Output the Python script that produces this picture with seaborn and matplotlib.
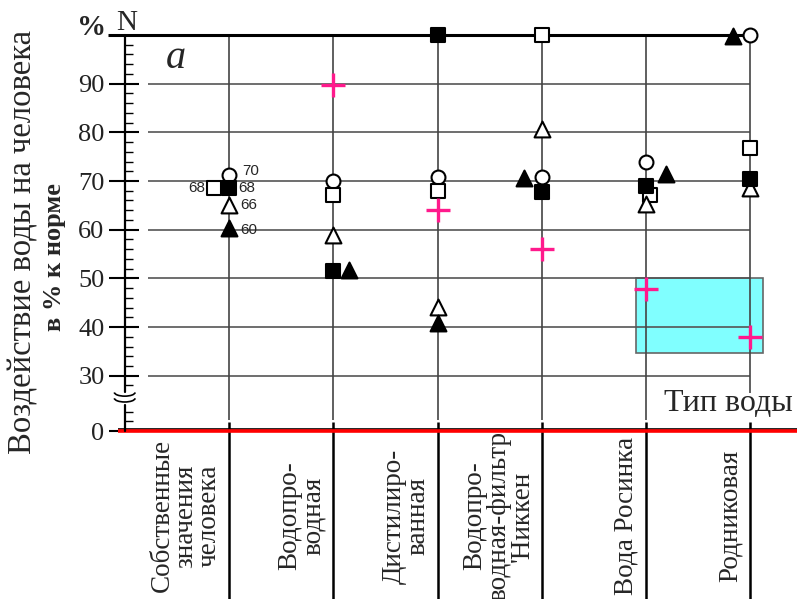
import matplotlib

matplotlib.use("Agg")

import matplotlib.pyplot as plt
import numpy as np
import pandas as pd
import seaborn as sns
from matplotlib.patches import Arc, Rectangle
from matplotlib.ticker import FixedLocator

# water types (x categories)
categories = [
    "Собственные\nзначения\nчеловека",
    "Водопро-\nводная",
    "Дистилиро-\nванная",
    "Водопро-\nводная-фильтр\n'Никкен",
    "Вода Росинка",
    "Родниковая",
]

# effect on a person, % of norm
open_circle = [71.2, 70.0, 70.9, 70.9, 73.9, 100.0]
open_square = [68.6, 67.1, 68.0, 100.0, 67.2, 76.8]
open_triangle = [65.1, 58.9, 44.2, 80.7, 65.3, 68.5]
filled_square = [68.6, 51.5, 100.0, 67.7, 69.0, 70.5]
filled_triangle = [60.3, 51.7, 40.9, 70.7, 71.4, 99.8]
cross = [np.nan, 89.8, 64.0, 56.0, 47.8, 38.0]

# numbers written next to the markers of the first column
own_labels = ["70", "68", "68", "66", "60"]

# norm zone (cyan box)
norm_low, norm_high = 34.6, 50.0

ytick_values = [0, 30, 40, 50, 60, 70, 80, 90]

W, H = 797, 599
ZERO_POS = 18.64  # where "0" sits below the axis break


def fx(px):
    return px / W


def fy(py):
    return 1 - py / H


def main():
    sns.set_theme(style="white")
    plt.rcParams["font.family"] = ["Liberation Serif", "DejaVu Serif"]

    fig = plt.figure(figsize=(W / 100, H / 100), dpi=100)
    ax = fig.add_axes([fx(124), fy(431), fx(797 - 124), (431 - 35) / H])
    ax.set_xlim(-1.007, 5.446)
    ax.set_ylim(ZERO_POS, 100)
    for s in ax.spines.values():
        s.set_visible(False)

    cols = np.arange(len(categories))

    # y axis with break
    ax.plot([-1, -1], [100, 26.7], color="black", lw=1.6, clip_on=False, zorder=4)
    ax.plot([-1, -1], [23.9, ZERO_POS], color="black", lw=1.6, clip_on=False, zorder=4)
    for yb in (26.1, 24.9):
        ax.add_patch(Arc((-1, yb + 0.5), 0.2, 1.6, theta1=200, theta2=340,
                         color="black", lw=1.2, clip_on=False, zorder=4))

    tick_pos = [ZERO_POS if v == 0 else v for v in ytick_values]
    ax.set_yticks(tick_pos)
    ax.set_yticklabels([str(v) for v in ytick_values], fontsize=19, color="#222")
    minor = [v for v in range(32, 100, 2) if v % 10] + [28, ZERO_POS + 2, ZERO_POS + 4]
    ax.yaxis.set_minor_locator(FixedLocator(minor))
    ax.tick_params(axis="y", which="major", direction="inout", length=22, width=1.5,
                   left=True, pad=3, color="black")
    ax.tick_params(axis="y", which="minor", direction="in", length=6.5, width=1,
                   left=True, color="black")
    ax.set_xticks([])

    # grid
    ax.hlines(range(30, 100, 10), -0.775, 5.0, color="#555", lw=1.2, zorder=2)
    ax.hlines(100, -1.16, 5, color="black", lw=2.2, clip_on=False, zorder=3)
    ax.vlines(cols[:5], 20.9, 100, color="#444", lw=1.2, zorder=2)
    ax.vlines(cols[5], 26.4, 100, color="#444", lw=1.2, zorder=2)
    ax.vlines(cols, -17, 20.4, color="black", lw=1.8, clip_on=False, zorder=2)

    # zero line
    ax.hlines(ZERO_POS + 0.35, -1.06, 5.45, color="black", lw=1.2, clip_on=False, zorder=3)
    ax.hlines(ZERO_POS, -1.06, 5.45, color="#ff0000", lw=2.6, clip_on=False, zorder=3)

    ax.add_patch(Rectangle((3.90, norm_low), 1.217, norm_high - norm_low,
                           facecolor="#80ffff", edgecolor="#666", lw=1.2, zorder=1))

    # markers
    series = [
        (open_circle, [0] * 6, "o", 100, "white"),
        (open_square, [-0.145, 0, 0, 0, 0.04, 0], "s", 90, "white"),
        (open_triangle, [0] * 6, "^", 130, "white"),
        (filled_square, [0] * 6, "s", 90, "black"),
        (filled_triangle, [0, 0.153, 0, -0.17, 0.19, -0.17], "^", 130, "black"),
    ]
    for values, dx, marker, size, face in series:
        df = pd.DataFrame({"x": cols + np.array(dx), "y": values})
        sns.scatterplot(data=df, x="x", y="y", marker=marker, s=size, color=face,
                        edgecolor="black", linewidth=1.5, ax=ax, zorder=6, clip_on=False)
    df = pd.DataFrame({"x": cols, "y": cross})
    sns.scatterplot(data=df, x="x", y="y", marker="+", s=290, color="#ff1a8c",
                    linewidth=2.4, ax=ax, zorder=7, clip_on=False)
    ax.set_xlabel("")
    ax.set_ylabel("")

    # numbers at first column
    first = [(0, open_circle[0], 9.4, 3), (0, filled_square[0], 7, 0),
             (-0.145, open_square[0], -6.5, 0), (0, open_triangle[0], 8, 0),
             (0, filled_triangle[0], 8, -1)]
    for (x0, y0, ox, oy), lab in zip(first, own_labels):
        ax.annotate(lab, (x0, y0), xytext=(ox, oy), textcoords="offset points",
                    ha="left" if ox > 0 else "right", va="center", fontsize=11,
                    family="Liberation Sans", zorder=8)

    # category labels below the axis
    for i, lab in enumerate(categories):
        ax.text(i - 0.07, 1.2, lab, rotation=90, ha="right", va="center",
                multialignment="center", fontsize=19.5, linespacing=0.92, clip_on=False)

    fig.text(fx(23), fy(242), "Воздействие воды на человека", rotation=90,
             ha="center", va="center", fontsize=23.5)
    fig.text(fx(54), fy(257), "в % к норме", rotation=90, ha="center", va="center",
             fontsize=19, weight="bold")
    fig.text(fx(92), fy(35), "%", ha="center", va="baseline", fontsize=21, weight="bold")
    fig.text(fx(127), fy(30), "N", ha="center", va="baseline", fontsize=21)
    fig.text(fx(176), fy(58), "a", ha="center", va="center", fontsize=29, style="italic")
    fig.text(fx(793), fy(411), "Тип воды", ha="right", va="baseline", fontsize=23)

    fig.savefig("out.png", dpi=100, facecolor="white")


if __name__ == "__main__":
    main()
